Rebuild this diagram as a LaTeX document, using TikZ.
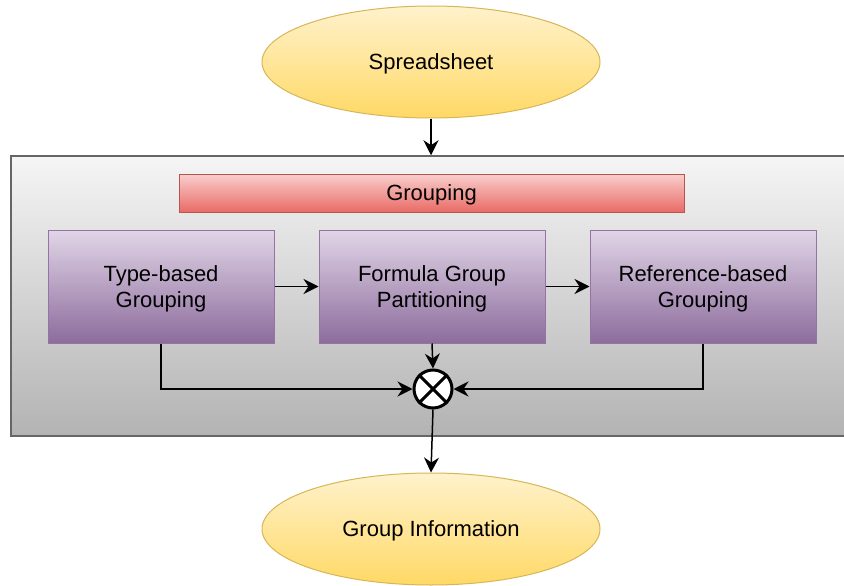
\documentclass[tikz,border=0pt]{standalone}
\usepackage{fontspec}
\setmainfont{Liberation Sans}
\usetikzlibrary{shapes.geometric,arrows.meta}
\definecolor{yelTop}{HTML}{FFF2CC}
\definecolor{yelBot}{HTML}{FFD966}
\definecolor{yelLine}{HTML}{D6B656}
\definecolor{grayTop}{HTML}{F5F5F5}
\definecolor{grayBot}{HTML}{B3B3B3}
\definecolor{grayLine}{HTML}{666666}
\definecolor{redTop}{HTML}{F8CECC}
\definecolor{redBot}{HTML}{EA6B66}
\definecolor{redLine}{HTML}{B85450}
\definecolor{purTop}{HTML}{E1D5E7}
\definecolor{purBot}{HTML}{8C6C9C}
\definecolor{purLine}{HTML}{9673A6}
\tikzset{
  txt/.style={font=\fontsize{22}{26}\selectfont, align=center, text=black, text depth=0pt},
  terminal/.style={txt, ellipse, draw=yelLine, line width=1pt, top color=yelTop, bottom color=yelBot,
    minimum width=338pt, minimum height=112pt, inner sep=0pt},
  container/.style={rectangle, draw=grayLine, line width=1.5pt, top color=grayTop, bottom color=grayBot,
    minimum width=834pt, minimum height=280pt, inner sep=0pt},
  banner/.style={txt, rectangle, draw=redLine, line width=1pt, top color=redTop, bottom color=redBot,
    minimum width=505pt, minimum height=38pt, inner sep=0pt},
  stage/.style={txt, rectangle, draw=purLine, line width=1pt, top color=purTop, bottom color=purBot,
    minimum width=226pt, minimum height=113pt, inner sep=0pt},
  joiner/.style={circle, draw=black, line width=3pt, fill=white, minimum size=38pt, inner sep=0pt},
  arr/.style={draw=black, line width=1.5pt, -{Stealth[length=15pt,width=15pt,inset=5pt]}},
}
\begin{document}
\begin{tikzpicture}[x=1pt,y=-1pt]
  \useasboundingbox (0,0) rectangle (844,586);

  % outer grouping panel
  \node[container] (grp) at (428,296) {};
  \node[banner] (hdr) at (431.5,193) {Grouping};

  % input and output
  \node[terminal] (sheet) at (431,62) {Spreadsheet};
  \node[terminal] (info) at (431,529) {Group Information};

  % the three grouping stages
  \node[stage] (type) at (161,286.5) {Type-based\\Grouping};
  \node[stage] (formula) at (432,286.5) {Formula Group\\Partitioning};
  \node[stage] (ref) at (703,286.5) {Reference-based\\Grouping};

  % merge point
  \node[joiner] (mix) at (433,389) {};
  \draw[line width=3pt] (mix.north west) -- (mix.south east);
  \draw[line width=3pt] (mix.north east) -- (mix.south west);

  % connectors
  \draw[arr] (sheet.south) -- (sheet.south |- grp.north);
  \draw[arr] (type.east) -- (formula.west);
  \draw[arr] (formula.east) -- (ref.west);
  \draw[arr] (formula.south) -- (mix.north);
  \draw[arr] (type.south) |- (mix.west);
  \draw[arr] (ref.south) |- (mix.east);
  \draw[arr] (mix.south) -- (info.north);
\end{tikzpicture}
\end{document}
